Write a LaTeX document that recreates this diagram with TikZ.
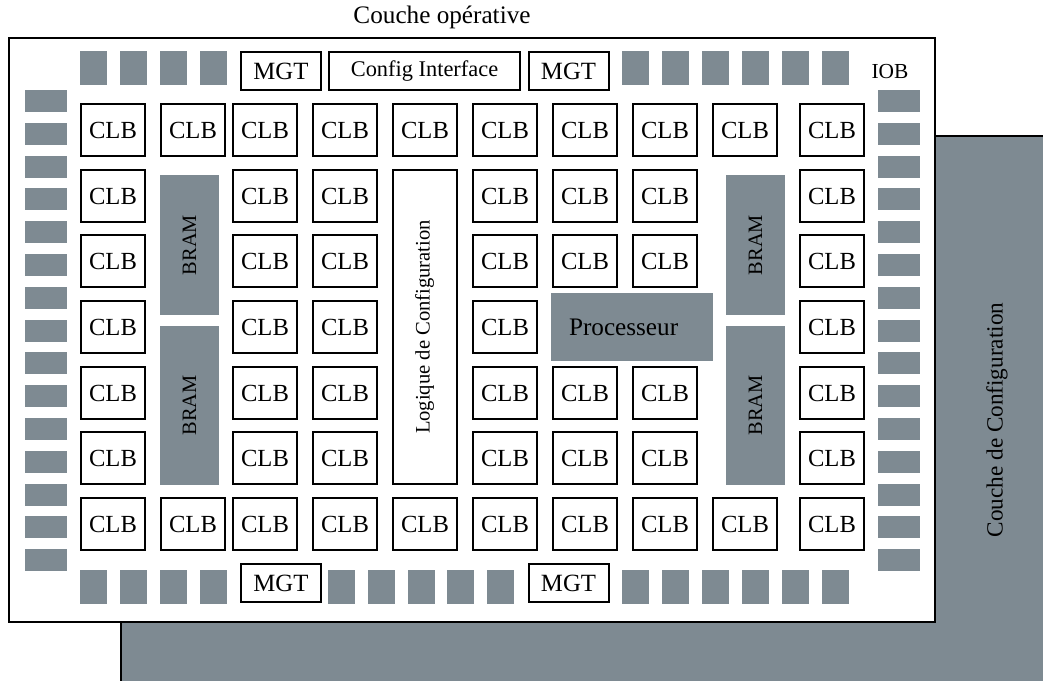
\documentclass[tikz,border=0pt]{standalone}
\usepackage{fontspec}
\setmainfont{Liberation Serif}
\usetikzlibrary{positioning}
\definecolor{slate}{RGB}{126,138,146}

\begin{document}
\begin{tikzpicture}[
        x=0.5pt, y=-0.5pt,
        clb/.style={rectangle, draw=black, fill=white, line width=1pt, minimum width=32pt, minimum height=26pt, inner sep=0pt, font=\fontsize{12.3}{14}\selectfont},
        mgt/.style={rectangle, draw=black, fill=white, line width=1pt, minimum width=40pt, minimum height=19pt, inner sep=0pt, font=\fontsize{12.4}{14}\selectfont},
        iobside/.style={rectangle, fill=slate, minimum width=21pt, minimum height=11pt, inner sep=0pt},
        iobpad/.style={rectangle, fill=slate, minimum width=13.5pt, minimum height=17pt, inner sep=0pt},
        bram/.style={rectangle, fill=slate, minimum width=29.5pt, inner sep=0pt},
        label/.style={inner sep=0pt, font=\fontsize{12.6}{14}\selectfont}
    ]
    \useasboundingbox (0,0) rectangle (1043,680);

    % couche de configuration (back layer)
    \draw[fill=slate, line width=1pt] (121,136) rectangle (1080,720);
    \node[label, rotate=90, font=\fontsize{11.6}{14}\selectfont] (cfglayer) at (997,420) {Couche de Configuration};

    % couche operative (front layer)
    \draw[fill=white, line width=1pt] (9,38) rectangle (935,622);
    \node[label] (oplayer) at (442,17) {Couche opérative};
    \node[label, font=\fontsize{10.7}{12}\selectfont] (ioblabel) at (890,72) {IOB};

    % IOB
    \foreach \k in {0,...,14} {
        \node[iobside] (iobl\k) at (45.5,{101+32.8*\k}) {};
        \node[iobside] (iobr\k) at (899,{101+32.8*\k}) {};
    }
    \foreach \x [count=\k] in {93.5,133.5,173.5,213.5,635.5,675.5,715.5,755.5,795.5,835.5} {
        \node[iobpad] (iobt\k) at (\x,68) {};
        \node[iobpad] (iobb\k) at (\x,586.5) {};
    }
    \foreach \x [count=\k] in {341.5,381.3,421.1,460.9,500.7}
        \node[iobpad] (iobm\k) at (\x,586.5) {};

    % MGT and config interface
    \node[mgt] (mgttl) at (281,71) {MGT};
    \node[mgt] (mgttr) at (568.5,71) {MGT};
    \node[mgt] (mgtbl) at (281,583) {MGT};
    \node[mgt] (mgtbr) at (568.5,583) {MGT};
    \node[mgt, minimum width=95.5pt, font=\fontsize{11.2}{13}\selectfont] (cfgif) at (424.5,71) {Config Interface};

    % CLB
    \foreach \r/\y in {1/130,7/524}
        \foreach \c/\x in {1/113,2/193,3/265,4/345,5/425,6/505,7/585,8/665,9/745,10/832}
            \node[clb] (clb\r-\c) at (\x,\y) {CLB};
    \foreach \r/\y in {2/196,3/261,5/393,6/458}
        \foreach \c/\x in {1/113,3/265,4/345,6/505,7/585,8/665,10/832}
            \node[clb] (clb\r-\c) at (\x,\y) {CLB};
    \foreach \c/\x in {1/113,3/265,4/345,6/505,10/832}
        \node[clb] (clb4-\c) at (\x,327) {CLB};

    % BRAM, processeur, logique
    \node[bram, minimum height=70pt] (bramtl) at (189.5,245) {};
    \node[bram, minimum height=79.5pt] (brambl) at (189.5,405.5) {};
    \node[bram, minimum height=70pt] (bramtr) at (755.5,245) {};
    \node[bram, minimum height=79.5pt] (brambr) at (755.5,405.5) {};
    \foreach \b in {bramtl,brambl,bramtr,brambr}
        \node[rotate=90, inner sep=0pt, font=\fontsize{10.2}{12}\selectfont] at (\b) {BRAM};
    \node[rectangle, fill=slate, minimum width=81pt, minimum height=34pt, text width=63pt, inner xsep=8.5pt, align=left, font=\fontsize{12.6}{14}\selectfont] (proc) at (632,327) {Processeur};
    \node[clb, minimum height=157pt] (logcfg) at (424.5,327) {};
    \node[rotate=90, inner sep=0pt, font=\fontsize{10.3}{12}\selectfont] (logtext) at (logcfg) {Logique de Configuration};
\end{tikzpicture}
\end{document}
